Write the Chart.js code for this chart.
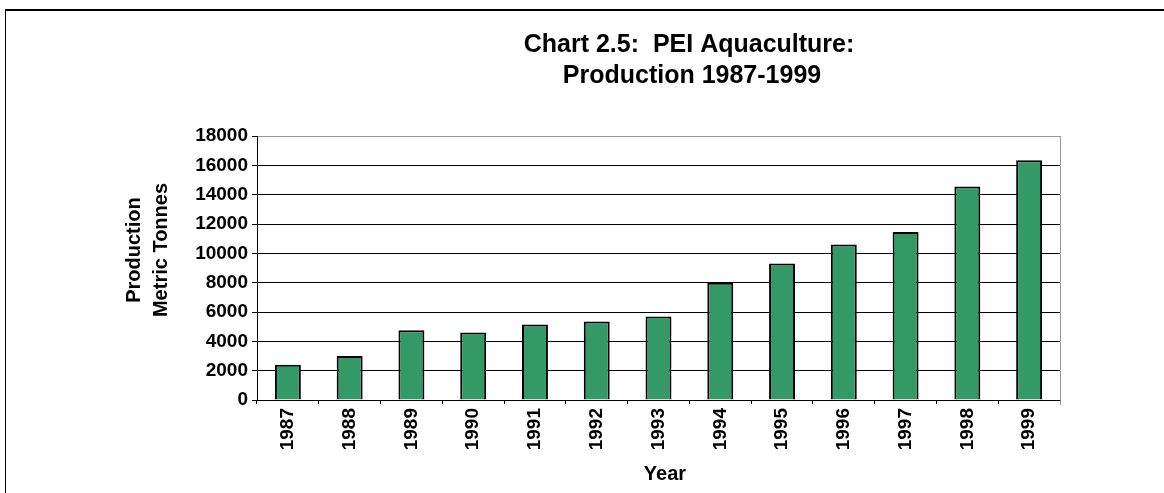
<!DOCTYPE html>
<html lang="en">
<head>
  <meta charset="UTF-8"/>
  <title>PEI Aquaculture Production 1987-1999</title>
  <script src="https://cdn.jsdelivr.net/npm/chart.js@4.4.1/dist/chart.umd.min.js"></script>
  <style>
    html, body { margin: 0; padding: 0; background: #fff; }
    #wrap { position: relative; width: 1164px; height: 493px; overflow: hidden; }
    #frame { position: absolute; left: 5px; top: 9px; width: 1200px; height: 600px;
             border-left: 1px solid #000; border-top: 2px solid #000; }
    #chart { position: absolute; left: 0; top: 0; }
  </style>
</head>
<body>
  <div id="wrap">
    <div id="frame"></div>
    <canvas id="chart" width="1164" height="493"></canvas>
  </div>

  <script>
    const years = ['1987', '1988', '1989', '1990', '1991', '1992', '1993',
                   '1994', '1995', '1996', '1997', '1998', '1999'];
    const production = [2400, 3000, 4750, 4600, 5150, 5350, 5700,
                        8000, 9300, 10600, 11450, 14550, 16350];
    const yMin = 0, yMax = 18000, yStep = 2000;

    const titleLines = ['Chart 2.5:  PEI Aquaculture:', 'Production 1987-1999'];
    const yTitleLines = ['Production', 'Metric Tonnes'];
    const xTitle = 'Year';

    const FONT = "'Liberation Sans', Arial, sans-serif";

    // titles, axis titles and the grey plot-area edge on the right
    const decor = {
      id: 'decor',
      afterDraw(chart) {
        const { ctx, chartArea: a } = chart;
        ctx.save();
        ctx.strokeStyle = '#999';
        ctx.lineWidth = 1;
        ctx.beginPath();
        ctx.moveTo(a.right + 0.5, a.top);
        ctx.lineTo(a.right + 0.5, a.bottom + 5);
        ctx.stroke();

        ctx.fillStyle = '#000';
        ctx.textAlign = 'center';
        ctx.textBaseline = 'alphabetic';
        ctx.font = 'bold 25px ' + FONT;
        ctx.fillText(titleLines[0], 689, 52);
        ctx.fillText(titleLines[1], 692, 83);

        ctx.font = 'bold 20px ' + FONT;
        ctx.fillText(xTitle, 665, 480);

        [[140, yTitleLines[0]], [167, yTitleLines[1]]].forEach(([x, t]) => {
          ctx.save();
          ctx.translate(x, 250);
          ctx.rotate(-Math.PI / 2);
          ctx.fillText(t, 0, 0);
          ctx.restore();
        });
        ctx.restore();
      }
    };

    new Chart(document.getElementById('chart').getContext('2d'), {
      type: 'bar',
      data: {
        labels: years,
        datasets: [{
          data: production,
          backgroundColor: '#339966',
          borderColor: '#000',
          borderWidth: 2,
          barPercentage: 0.42,
          categoryPercentage: 1
        }]
      },
      options: {
        responsive: false,
        animation: false,
        layout: { padding: { top: 136, right: 104, bottom: 0, left: 0 } },
        plugins: { legend: { display: false }, tooltip: { enabled: false }, title: { display: false } },
        scales: {
          x: {
            afterFit: s => { s.height = 93; },
            grid: { drawOnChartArea: false, color: '#000', tickLength: 4, offset: true },
            border: { color: '#000', width: 1 },
            ticks: {
              color: '#000', font: { family: FONT, size: 19, weight: 'bold' },
              minRotation: 90, maxRotation: 90, padding: 4, autoSkip: false
            }
          },
          y: {
            min: yMin, max: yMax,
            afterFit: s => { s.width = 257; },
            grid: {
              color: c => (c.tick && c.tick.value === yMax ? '#999' : '#000'),
              tickColor: '#000', tickLength: 5, lineWidth: 1
            },
            border: { color: '#000', width: 1 },
            ticks: {
              stepSize: yStep, color: '#000', padding: 4,
              font: { family: FONT, size: 19, weight: 'bold' },
              callback: v => String(v)
            }
          }
        }
      },
      plugins: [decor]
    });
  </script>
</body>
</html>
